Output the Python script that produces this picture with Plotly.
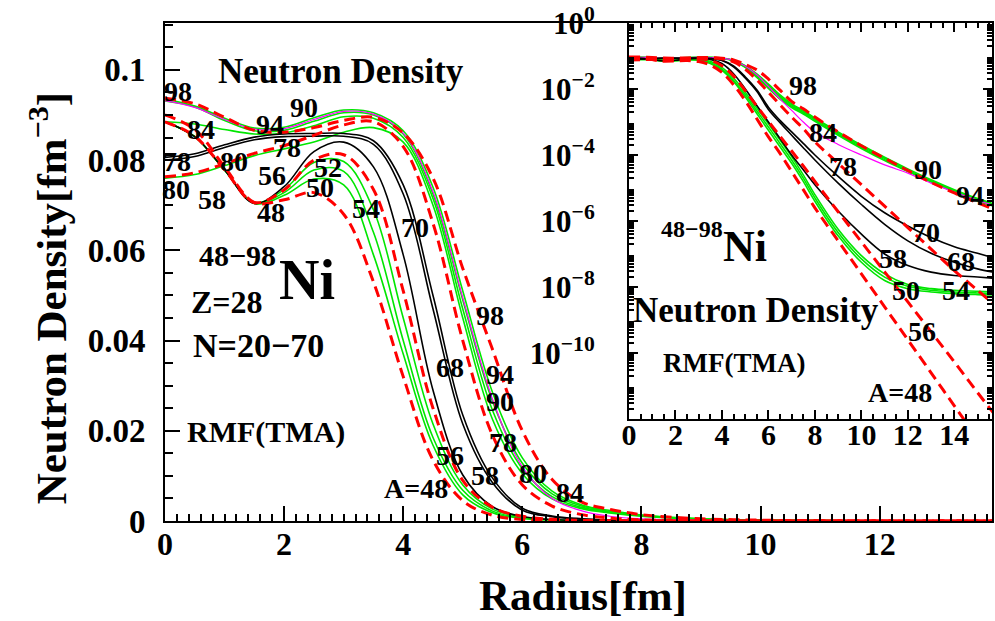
import plotly.graph_objects as go

# Radial grid (fm) shared by every density profile
RADIUS = [0, 0.5, 1, 1.5, 2, 2.5, 3, 3.5, 4, 4.5, 5, 5.5, 6, 6.5, 7, 7.5, 8,
          9, 10, 11, 12, 13, 14, 15, 16]

# Neutron densities (fm^-3) of the Ni isotopes, RMF(TMA)
rho_48 = [0.0900, 0.0868, 0.0785, 0.0706, 0.0712, 0.0728, 0.0680, 0.0530, 0.0320, 0.0135, 0.0045,
          1.26e-3, 3.55e-4, 1.12e-4, 3.16e-5, 8.91e-6, 2.51e-6,
          2.51e-7, 2.51e-8, 2.51e-9, 2.51e-10, 2.51e-11, 2.51e-12, 2.51e-13, 2.51e-14]
rho_50 = [0.0885, 0.0852, 0.0778, 0.0704, 0.0722, 0.0758, 0.0745, 0.0590, 0.0370, 0.0168, 0.0058,
          1.82e-3, 5.62e-4, 1.78e-4, 5.62e-5, 1.58e-5, 3.98e-6,
          3.55e-7, 5.62e-8, 1.58e-8, 8.91e-9, 7.08e-9, 6.31e-9, 5.89e-9, 5.62e-9]
rho_52 = [0.0885, 0.0852, 0.0778, 0.0705, 0.0728, 0.0778, 0.0775, 0.0640, 0.0400, 0.0185, 0.0068,
          2.19e-3, 7.08e-4, 2.24e-4, 7.08e-5, 2.00e-5, 5.01e-6,
          4.47e-7, 7.08e-8, 2.00e-8, 1.05e-8, 7.94e-9, 7.08e-9, 6.61e-9, 6.31e-9]
rho_54 = [0.0885, 0.0852, 0.0778, 0.0706, 0.0735, 0.0795, 0.0797, 0.0690, 0.0450, 0.0215, 0.0080,
          2.63e-3, 8.91e-4, 2.82e-4, 8.91e-5, 2.51e-5, 6.31e-6,
          5.62e-7, 8.91e-8, 2.51e-8, 1.20e-8, 8.91e-9, 7.94e-9, 7.41e-9, 7.08e-9]
rho_56 = [0.0885, 0.0853, 0.0779, 0.0706, 0.0734, 0.0800, 0.0812, 0.0735, 0.0510, 0.0250, 0.0090,
          3.02e-3, 1.05e-3, 3.72e-4, 1.32e-4, 4.68e-5, 1.58e-5,
          1.91e-6, 2.34e-7, 2.88e-8, 3.55e-9, 4.37e-10, 5.37e-11, 6.31e-12, 7.94e-13]
rho_58 = [0.0885, 0.0852, 0.0778, 0.0704, 0.0741, 0.0819, 0.0840, 0.0785, 0.0590, 0.0290, 0.0102,
          3.16e-3, 1.00e-3, 3.16e-4, 1.00e-4, 3.55e-5, 1.26e-5,
          2.00e-6, 3.98e-7, 1.00e-7, 4.47e-8, 2.82e-8, 2.24e-8, 2.00e-8, 1.78e-8]
rho_68 = [0.0800, 0.0808, 0.0828, 0.0845, 0.0852, 0.0853, 0.0853, 0.0835, 0.0725, 0.0470, 0.0215,
          8.50e-3, 2.40e-3, 9.55e-4, 3.98e-4, 1.66e-4, 7.08e-5,
          1.41e-5, 3.16e-6, 7.94e-7, 2.51e-7, 1.05e-7, 5.62e-8, 3.55e-8, 2.51e-8]
rho_70 = [0.0806, 0.0814, 0.0834, 0.0851, 0.0858, 0.0859, 0.0859, 0.0843, 0.0745, 0.0500, 0.0235,
          9.50e-3, 2.82e-3, 1.12e-3, 5.01e-4, 2.24e-4, 1.00e-4,
          2.24e-5, 5.62e-6, 1.78e-6, 7.08e-7, 3.16e-7, 1.66e-7, 1.05e-7, 6.61e-8]
rho_78 = [0.0763, 0.0772, 0.0792, 0.0815, 0.0832, 0.0855, 0.0878, 0.0885, 0.0830, 0.0660, 0.0400,
          0.0190, 8.00e-3, 3.31e-3, 1.41e-3, 6.31e-4, 2.51e-4,
          5.62e-5, 1.26e-5, 2.82e-6, 6.31e-7, 1.41e-7, 3.16e-8, 7.94e-9, 2.00e-9]
rho_80 = [0.0760, 0.0768, 0.0788, 0.0810, 0.0825, 0.0840, 0.0862, 0.0872, 0.0840, 0.0700, 0.0450,
          0.0225, 0.0105, 4.90e-3, 2.75e-3, 1.74e-3, 1.05e-3,
          3.98e-4, 1.58e-4, 6.76e-5, 3.16e-5, 1.51e-5, 7.59e-6, 4.07e-6, 2.40e-6]
rho_84 = [0.0885, 0.0880, 0.0868, 0.0858, 0.0860, 0.0876, 0.0896, 0.0893, 0.0850, 0.0715, 0.0470,
          0.0245, 0.0116, 5.40e-3, 3.02e-3, 1.91e-3, 1.15e-3,
          4.27e-4, 1.70e-4, 7.24e-5, 3.31e-5, 1.58e-5, 7.94e-6, 4.27e-6, 2.51e-6]
rho_90 = [0.0931, 0.0918, 0.0888, 0.0865, 0.0866, 0.0886, 0.0905, 0.0900, 0.0858, 0.0725, 0.0490,
          0.0265, 0.0128, 6.00e-3, 3.31e-3, 2.09e-3, 1.26e-3,
          4.68e-4, 1.86e-4, 7.94e-5, 3.55e-5, 1.66e-5, 8.32e-6, 4.47e-6, 2.63e-6]
rho_94 = [0.0935, 0.0920, 0.0893, 0.0871, 0.0873, 0.0894, 0.0911, 0.0905, 0.0865, 0.0740, 0.0510,
          0.0285, 0.0140, 6.60e-3, 3.55e-3, 2.24e-3, 1.32e-3,
          5.01e-4, 2.00e-4, 8.51e-5, 3.80e-5, 1.78e-5, 8.91e-6, 4.79e-6, 2.82e-6]
rho_96 = [0.0932, 0.0917, 0.0890, 0.0869, 0.0870, 0.0890, 0.0908, 0.0902, 0.0860, 0.0730, 0.0495,
          0.0270, 0.0120, 5.01e-3, 2.24e-3, 1.00e-3, 5.01e-4,
          2.09e-4, 1.00e-4, 5.01e-5, 2.82e-5, 1.41e-5, 7.59e-6, 4.27e-6, 2.51e-6]
rho_98 = [0.0937, 0.0925, 0.0895, 0.0866, 0.0862, 0.0872, 0.0888, 0.0895, 0.0860, 0.0760, 0.0560,
          0.0380, 0.0200, 9.20e-3, 4.20e-3, 2.51e-3, 1.41e-3,
          5.01e-4, 1.91e-4, 7.94e-5, 3.39e-5, 1.48e-5, 7.08e-6, 3.55e-6, 1.91e-6]

GREEN_SET = [("50", rho_50), ("52", rho_52), ("54", rho_54), ("80", rho_80),
             ("84", rho_84), ("90", rho_90), ("94", rho_94)]
MAGENTA_SET = [("96", rho_96)]
BLACK_SET = [("58", rho_58), ("68", rho_68), ("70", rho_70)]
RED_SET = [("48", rho_48), ("56", rho_56), ("78", rho_78), ("98", rho_98)]

# Isotope labels next to the curves: linear panel (r, rho) and log inset (r, log10 rho)
MAIN_TAGS = [("98", 0.22, 0.0953), ("84", 0.60, 0.0867), ("94", 1.76, 0.0880), ("90", 2.33, 0.0916),
             ("78", 0.20, 0.0796), ("80", 1.16, 0.0796), ("78", 2.04, 0.0829), ("80", 0.18, 0.0734),
             ("58", 0.79, 0.0712), ("48", 1.78, 0.0685), ("56", 1.80, 0.0765), ("52", 2.73, 0.0783),
             ("50", 2.60, 0.0740), ("54", 3.38, 0.0692), ("70", 4.20, 0.0650), ("98", 5.46, 0.0455),
             ("68", 4.79, 0.0341), ("94", 5.63, 0.0324), ("90", 5.63, 0.0264), ("78", 5.68, 0.0173),
             ("80", 6.18, 0.0106), ("84", 6.80, 0.0064), ("56", 4.79, 0.0146), ("58", 5.38, 0.0100),
             ("A=48", 4.22, 0.0071)]
INSET_TAGS = [("98", 7.51, -1.88), ("84", 8.37, -3.33), ("78", 9.23, -4.36), ("90", 12.88, -4.45),
              ("94", 14.68, -5.24), ("70", 12.79, -6.36), ("58", 11.37, -7.15), ("68", 14.29, -7.24),
              ("50", 11.93, -8.12), ("54", 14.08, -8.12), ("56", 12.62, -9.36), ("A=48", 11.67, -11.2)]

SERIF = "Liberation Serif"
LINE_STYLES = {
    "green": dict(color="#00e600", width=1.6),
    "magenta": dict(color="#ff00ff", width=1.2),
    "black": dict(color="black", width=1.6),
    "red": dict(color="#ff0000", width=3, dash="11px,6px"),
}

fig = go.Figure()

for style, group in [("green", GREEN_SET), ("magenta", MAGENTA_SET),
                     ("black", BLACK_SET), ("red", RED_SET)]:
    for mass, rho in group:
        for xa, ya in [("x", "y"), ("x2", "y2")]:
            fig.add_trace(go.Scatter(
                x=RADIUS, y=rho, xaxis=xa, yaxis=ya, mode="lines",
                line=dict(shape="spline", smoothing=1.0, **LINE_STYLES[style]),
                name=f"{mass}Ni", showlegend=False, hoverinfo="skip"))


def text(t, x, y, size, xref="x", yref="y", angle=0):
    fig.add_annotation(text=t, x=x, y=y, xref=xref, yref=yref, showarrow=False,
                       xanchor="center", yanchor="middle", textangle=angle,
                       font=dict(family=SERIF, size=size, color="black", weight="bold"))


for t, r, v in MAIN_TAGS:
    text(t, r, v, 28)
for t, r, v in INSET_TAGS:
    text(t, r, v, 28, "x2", "y2")

# Panel captions
text("Neutron Density", 2.95, 0.0996, 35)
text("48\u221298", 1.22, 0.0588, 30)
text("Ni", 2.38, 0.0534, 56)
text("Z=28", 1.04, 0.0486, 32)
text("N=20\u221270", 1.57, 0.0388, 34)
text("RMF(TMA)", 1.69, 0.0197, 30)

text("48\u221298", 2.70, -6.24, 24, "x2", "y2")
text("Ni", 4.98, -6.76, 44, "x2", "y2")
text("Neutron Density", 5.45, -8.70, 35, "x2", "y2")
text("RMF(TMA)", 4.50, -10.30, 27, "x2", "y2")

# Axis titles
text("Radius[fm]", 0.5054, -0.1506, 43, "paper", "paper")
text("Neutron Density[fm<sup>\u22123</sup>]", -0.1411, 0.4478, 43, "paper", "paper", -90)

tick_font = dict(family=SERIF, size=32, color="black", weight="bold")
axis_common = dict(showline=True, linewidth=2, linecolor="black", showgrid=False,
                   zeroline=False, ticks="inside", tickcolor="black", tickwidth=2)

log_minor = [k * 10.0 ** n for n in range(-12, 0) for k in range(2, 10)]
decades = [10.0 ** -n for n in range(0, 12, 2)]

fig.update_layout(
    width=995, height=621,
    margin=dict(l=165, r=1, t=23, b=100),
    paper_bgcolor="white", plot_bgcolor="white",
    showlegend=False,
    xaxis=dict(domain=[0, 1], range=[0, 13.886], tick0=0, dtick=2, ticklen=15,
               mirror=True, tickfont=tick_font, ticklabelstandoff=-6,
               minor=dict(ticks="inside", dtick=0.2, ticklen=7, tickwidth=1.5, tickcolor="black"),
               **axis_common),
    yaxis=dict(domain=[0, 1], range=[0, 0.1104], tick0=0, dtick=0.02, ticklen=15,
               mirror=True, tickfont=dict(family=SERIF, size=33, color="black", weight="bold"),
               ticklabelstandoff=11,
               minor=dict(ticks="inside", dtick=0.005, ticklen=8, tickwidth=1.5, tickcolor="black"),
               **axis_common),
    xaxis2=dict(domain=[0.561, 1], anchor="y2", range=[0, 15.62], tick0=0, dtick=2,
                ticklen=9, mirror="ticks", tickfont=dict(family=SERIF, size=30, color="black", weight="bold"),
                ticklabelstandoff=-12,
                minor=dict(ticks="inside", dtick=0.5, ticklen=5, tickwidth=1.5, tickcolor="black"),
                **axis_common),
    yaxis2=dict(domain=[0.2048, 1], anchor="x2", type="log", range=[-12, 0],
                tickvals=decades,
                ticktext=["10<sup>0</sup>"] + [f"10<sup>\u2212{n}</sup>" for n in range(2, 12, 2)],
                ticklen=9, mirror="ticks", ticklabelstandoff=26,
                tickfont=dict(family=SERIF, size=31, color="black", weight="bold"),
                minor=dict(ticks="inside", tickvals=log_minor, ticklen=5, tickwidth=1.5,
                           tickcolor="black"),
                **axis_common),
)

fig.write_html("out.html")
